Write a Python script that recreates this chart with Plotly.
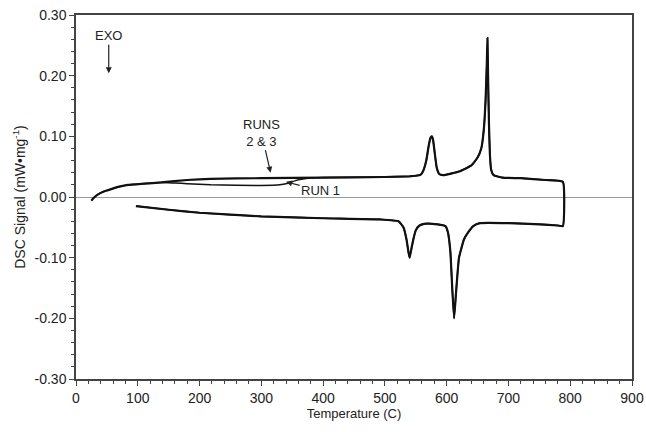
import plotly.graph_objects as go

# ---- data ----
heat_t_runs23 = [25, 28, 35, 45, 57, 70, 84, 110, 138, 180, 218, 300, 400, 500, 540, 550, 558, 562,
                 567, 571, 574, 576, 578, 581, 584, 588, 594, 600, 620, 640, 650, 656, 660, 663,
                 665, 666, 667, 668.5, 670, 672, 676, 690, 720, 760, 788]
heat_v_runs23 = [-0.006, -0.002, 0.004, 0.009, 0.013, 0.017, 0.020, 0.022, 0.024, 0.028, 0.030, 0.031,
                 0.032, 0.033, 0.034, 0.035, 0.037, 0.043, 0.060, 0.085, 0.098, 0.100, 0.094, 0.070,
                 0.048, 0.038, 0.036, 0.037, 0.042, 0.052, 0.065, 0.080, 0.110, 0.160, 0.220, 0.262,
                 0.200, 0.120, 0.070, 0.045, 0.036, 0.032, 0.031, 0.028, 0.025]

heat_t_run1 = [25, 28, 35, 45, 57, 70, 84, 110, 138, 160, 180, 218, 300, 330, 345, 355, 370, 400, 500,
               540, 550, 558, 562, 567, 571, 574, 576, 578, 581, 584, 588, 594, 600, 620, 640, 650,
               656, 660, 663, 665, 666, 667, 668.5, 670, 672, 676, 690, 720, 760, 788]
heat_v_run1 = [-0.006, -0.002, 0.004, 0.009, 0.013, 0.017, 0.020, 0.022, 0.024, 0.023, 0.022, 0.020,
               0.019, 0.020, 0.023, 0.027, 0.030, 0.032, 0.033, 0.034, 0.035, 0.037, 0.043, 0.060,
               0.085, 0.098, 0.100, 0.094, 0.070, 0.048, 0.038, 0.036, 0.037, 0.042, 0.052, 0.065,
               0.080, 0.110, 0.160, 0.220, 0.258, 0.200, 0.120, 0.070, 0.045, 0.036, 0.032, 0.031,
               0.028, 0.025]

cool_t = [788, 780, 750, 700, 654, 643, 635, 628, 620, 615, 612, 609, 606, 602, 598, 585, 566, 556,
          550, 546, 542, 540, 538, 535, 530, 522, 493, 400, 300, 200, 150, 97]
cool_v = [-0.048, -0.047, -0.045, -0.043, -0.043, -0.048, -0.058, -0.070, -0.100, -0.160, -0.200,
          -0.150, -0.090, -0.058, -0.048, -0.045, -0.044, -0.047, -0.055, -0.070, -0.090, -0.100,
          -0.090, -0.070, -0.050, -0.040, -0.037, -0.035, -0.032, -0.026, -0.021, -0.015]

x_ticks = [0, 100, 200, 300, 400, 500, 600, 700, 800, 900]
y_ticks = [0.30, 0.20, 0.10, 0.00, -0.10, -0.20, -0.30]
y_tick_text = ["0.30", "0.20", "0.10", "0.00", "-0.10", "-0.20", "-0.30"]

FONT = "Liberation Sans, Arial, sans-serif"
INK = "#222222"

fig = go.Figure()
fig.add_trace(go.Scatter(x=heat_t_run1 + cool_t, y=heat_v_run1 + cool_v, mode="lines",
                         line=dict(color="#111111", width=1.5, shape="spline", smoothing=0.4),
                         name="Run 1", showlegend=False))
fig.add_trace(go.Scatter(x=heat_t_runs23 + cool_t, y=heat_v_runs23 + cool_v, mode="lines",
                         line=dict(color="#111111", width=2.2, shape="spline", smoothing=0.4),
                         name="Runs 2 & 3", showlegend=False))

ann_font = dict(family=FONT, size=13, color=INK)
arrow = dict(showarrow=True, arrowhead=2, arrowsize=1, arrowwidth=1.2, arrowcolor=INK,
             axref="x", ayref="y", xref="x", yref="y", font=ann_font)
fig.add_annotation(x=53, y=0.204, ax=53, ay=0.266, text="EXO", **arrow)
fig.add_annotation(x=315, y=0.040, ax=300, ay=0.106, text="RUNS<br>2 & 3", **arrow)
fig.add_annotation(x=340, y=0.025, ax=396, ay=0.010, text="RUN 1", **arrow)

fig.update_layout(
    width=646, height=432,
    margin=dict(l=76, r=14, t=15, b=53),
    paper_bgcolor="white", plot_bgcolor="white",
    font=dict(family=FONT, size=13, color=INK),
)
fig.update_xaxes(
    range=[0, 900], tickvals=x_ticks, ticks="outside", ticklen=5, tickcolor="#444",
    showline=True, linecolor="#444", linewidth=1.5, mirror=True, showgrid=False, zeroline=False,
    minor=dict(dtick=20, ticks="outside", ticklen=3, tickcolor="#444"),
    title=dict(text="Temperature (C)", font=dict(size=13), standoff=3),
    tickfont=dict(size=14), automargin=False,
)
fig.update_yaxes(
    range=[-0.30, 0.30], tickvals=y_ticks, ticktext=y_tick_text, ticks="outside", ticklen=5,
    tickcolor="#444", showline=True, linecolor="#444", linewidth=1.5, mirror=True, showgrid=False,
    zeroline=True, zerolinecolor="#999999", zerolinewidth=1,
    minor=dict(dtick=0.02, ticks="outside", ticklen=3, tickcolor="#444"),
    title=dict(text="DSC Signal (mW•mg<sup>-1</sup>)", font=dict(size=14), standoff=6),
    tickfont=dict(size=14), automargin=False,
)

fig.write_html("out.html")
